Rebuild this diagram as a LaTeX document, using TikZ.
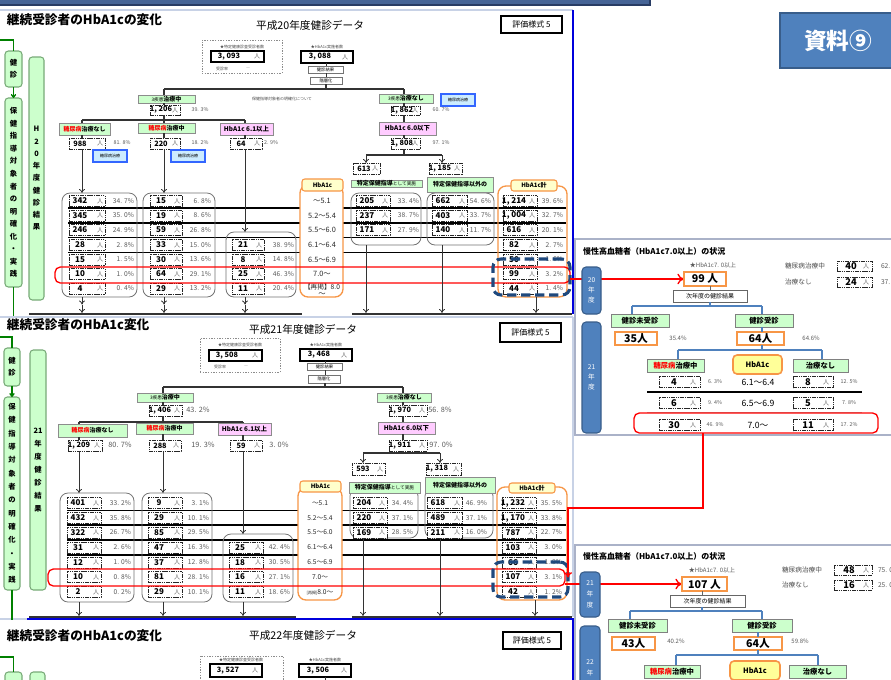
\documentclass[tikz,border=0pt]{standalone}
\usepackage{fontspec}
\setmainfont{Noto Sans CJK JP}
\usetikzlibrary{arrows.meta}
\definecolor{lgreen}{RGB}{204,255,204}
\definecolor{lpink}{RGB}{255,204,255}
\definecolor{lblue}{RGB}{204,236,255}
\definecolor{bluebd}{RGB}{51,102,255}
\definecolor{orng}{RGB}{247,150,70}
\definecolor{lyel}{RGB}{255,255,204}
\definecolor{yel}{RGB}{255,255,153}
\definecolor{pblue}{RGB}{79,129,189}
\definecolor{pbluebd}{RGB}{56,93,138}
\definecolor{dblue}{RGB}{31,73,125}
\definecolor{dgreen}{RGB}{0,128,0}
\definecolor{vgbd}{RGB}{120,170,120}
\definecolor{frl}{RGB}{200,210,230}
\definecolor{frb}{RGB}{0,0,220}
\definecolor{pbord}{RGB}{170,178,200}
\definecolor{barb}{RGB}{70,100,150}
\definecolor{barbd}{RGB}{40,60,100}
\newcommand\myfs[1]{\fontsize{#1}{#1}\selectfont}
\newcommand\mybx[7]{\node[#6,minimum width={(#4-#2)*0.75pt},minimum height={(#5-#3)*0.75pt}] (#1) at ({(#2+#4)/2},{(#3+#5)/2}) {#7};}
\newcommand\mytnum[6]{\mybx{#1}{#2}{#3}{#4}{#5}{numbox}{}%
 \node[tnumtxt] (#1-t) at ({#2+11},{(#3+#5)/2}) {#6};%
 \node[mantxt] (#1-m) at ({#4-5},{(#3+#5)/2}) {人};}
\newcommand\pctn[5]{\node[font=\myfs{#5},text=black!65] (#1) at (#2,#3) {#4};}
\newcommand\mytcol[7]{%
 \foreach \va/\vb [count=\i from #5] in {#7}{%
  \pgfmathsetmacro\yy{#6[\i-1]}%
  \node[numbox,minimum width={#3*0.75pt},minimum height={11*0.75pt}] (#1-\i) at (#2,\yy) {};
  \node[numtxt] (#1-\i-t) at ({#2-#3/2+11},\yy) {\va};
  \node[mantxt] (#1-\i-m) at ({#2+#3/2-5},\yy) {人};
  \node[pcttxt,anchor=east] (#1-\i-p) at (#4,\yy) {\vb};
 }}
\def\rowsA{{201,215.5,230,245,259.5,274,288.5}}
\def\rowsB{{503,518,532.5,547.5,562.5,577,592}}
\tikzset{
 gbox/.style={draw=black!45,fill=lgreen,line width=.5pt,font=\myfs{4.5}\bfseries},
 pbox/.style={draw=black!45,fill=lpink,line width=.5pt,font=\myfs{4.8}\bfseries},
 lbbox/.style={draw=bluebd,fill=lblue,line width=.8pt,font=\myfs{3}},
 numbox/.style={draw=black!85,line width=.6pt,dash pattern=on 1.2pt off .5pt,fill=white},
 topnum/.style={draw=black,line width=1pt,fill=white},
 topnumtxt/.style={font=\myfs{5.5}\bfseries},
 tnumtxt/.style={font=\myfs{5.5}\bfseries},
 numtxt/.style={font=\myfs{6}\bfseries},
 mantxt/.style={font=\myfs{4.5},text=black!60},
 pcttxt/.style={font=\myfs{5},text=black!65},
 hbtxt/.style={font=\myfs{5.5},text=black!85},
 tiny3/.style={font=\myfs{3},text=black!70},
 smallbox/.style={draw=black!55,fill=white,line width=.4pt,font=\myfs{3.2}},
 dashbox/.style={draw=black!45,dash pattern=on 1pt off 1pt,line width=.5pt},
 formbox/.style={draw=black,line width=1pt,font=\myfs{6},fill=white},
 colbox/.style={draw=black!55,line width=.6pt,rounded corners=6pt},
 orcol/.style={draw=orng,line width=1pt,rounded corners=6pt,fill=white},
 orlab/.style={draw=orng,line width=.8pt,rounded corners=2pt,fill=lyel,font=\myfs{4.5}\bfseries},
 tline/.style={draw=black!80,line width=1pt},
 rowline/.style={draw=black,line width=.9pt},
 arr/.style={draw=black!80,line width=.6pt,-{To[length=3pt,width=4.5pt]}},
 gline/.style={draw=dgreen,line width=1pt},
 vbox/.style={draw=vgbd,fill=lgreen,rounded corners=2.5pt,line width=.8pt,align=center},
 yrbox/.style={fill=pblue,draw=pbluebd,line width=.8pt,rounded corners=3pt,text=white,align=center,font=\fontsize{5}{7.5}\selectfont},
 onum/.style={draw=orng,line width=1.2pt,fill=white,font=\myfs{8}\bfseries},
 pgbox/.style={draw=black!50,fill=lgreen,line width=.6pt,font=\myfs{5.5}\bfseries},
 yelbox/.style={fill=yel,draw=orng,line width=1.2pt,rounded corners=3pt,font=\myfs{5.5}\bfseries},
 nextbox/.style={draw=black!60,fill=white,line width=.5pt,font=\myfs{4.5}},
 ptline/.style={draw=pblue,line width=1.3pt},
 redl/.style={draw=red,line width=1pt},
 redbox/.style={draw=red,line width=1pt,rounded corners=4pt},
 bdash/.style={draw=dblue,line width=2.3pt,dash pattern=on 7pt off 3.5pt,rounded corners=6pt},
 pframe/.style={draw=pbord,line width=.8pt,fill=white},
}
\begin{document}
\begin{tikzpicture}[x=0.75pt,y=-0.75pt,every node/.style={inner sep=0pt,outer sep=0pt}]
\useasboundingbox (0,0) rectangle (891,679);
\clip (0,0) rectangle (891,679);
\fill[white] (0,0) rectangle (891,679);
% ---------- frames ----------
\draw[fill=barb,draw=barbd,line width=.8pt] (-2,-2) rectangle (650,5);
\draw[frl,line width=1.2pt] (0,10) -- (573,10);
\draw[frb,line width=1pt] (573,10) -- (573,314);
\draw[frl,line width=1.2pt] (0,317) -- (573,317);
\draw[frl,line width=1pt] (573,317) -- (573,617);
\draw[frl,line width=1.2pt] (0,619) -- (27,619);
\draw[frb,line width=1.2pt] (27,619) -- (573,619) -- (573,685);
\mybx{shiryo}{780}{13}{896}{68}{fill=pblue,draw=pbluebd,line width=1.5pt,text=white,font=\myfs{17}\bfseries}{資料⑨}

% ================= SECTION 1 =================
\node[font=\myfs{9.5}\bfseries,anchor=west] (s1title) at (7,20) {継続受診者のHbA1cの変化};
\node[font=\myfs{8}] (s1sub) at (310,25) {平成20年度健診データ};
\mybx{s1form}{501}{16}{562}{33}{formbox}{評価様式 5}
\mybx{s1kn}{5}{51}{22}{87}{vbox,font=\fontsize{5.5}{9}\selectfont\bfseries}{健\\診}
\mybx{s1ho}{5}{98}{22}{287}{vbox,font=\fontsize{5.5}{9.4}\selectfont\bfseries}{保\\健\\指\\導\\対\\象\\者\\の\\明\\確\\化\\・\\実\\践}
\mybx{s1yr}{29}{57}{44}{300}{vbox,font=\fontsize{5.5}{9.2}\selectfont\bfseries}{H\\2\\0\\年\\度\\健\\診\\結\\果}
\coordinate (s1g0) at (0,40); \coordinate (s1g1) at (13.5,316);
\draw[gline] (s1g0) -| (s1kn.north);
\draw[gline,-{To[length=3pt,width=4pt]}] (s1kn.south) -- (s1ho.north);
\draw[gline] (s1ho.south) -- (s1g1);
\mybx{s1dash}{202}{40}{282}{73}{dashbox}{}
\node[tiny3] (s1l1) at (242,47) {★特定健康診査受診者数};
\mybx{s1tot}{211}{51}{264}{62}{topnum}{}
\node[topnumtxt] (s1tott) at (229,56.5) {3, 093};
\node[mantxt] (s1totm) at (257,56.5) {人};
\node[tiny3] (s1rate) at (222,69) {受診率};
\node[tiny3] (s1ratev) at (248,69) {―};
\node[tiny3] (s1l2) at (327,47) {★HbA1c実施者数};
\mybx{s1hb}{301}{51}{353}{63}{topnum}{}
\node[topnumtxt] (s1hbt) at (320,57) {3, 088};
\node[mantxt] (s1hbm) at (345,57) {人};
\mybx{s1kk}{308}{66}{343}{73}{smallbox}{健診結果}
\mybx{s1ks}{310}{77}{342}{84}{smallbox}{階層化}
\coordinate (s1v) at (326,89); \coordinate (s1jL) at (164,89); \coordinate (s1jR) at (404,89);
\draw[tline,line width=.6pt] (s1v |- s1hb.south) -- (s1v |- s1kk.north);
\draw[tline,line width=.6pt] (s1v |- s1kk.south) -- (s1v |- s1ks.north);
\draw[tline] (s1v |- s1ks.south) -- (s1v);
\draw[tline] (s1jL) -- (s1jR);
\node[tiny3,anchor=west] (s1note) at (252,99) {保健指導対象者の明確化について};
\mybx{s1a}{138}{95}{195}{103}{gbox}{{\mdseries\myfs{3.5}3疾患}治療中}
\mytnum{s1an}{150}{105}{180}{115}{1, 206}
\pctn{s1ap}{200}{110}{39. 3\%}{4}
\coordinate (s1kL) at (82,120); \coordinate (s1kM) at (164,120); \coordinate (s1kR) at (245,120);
\draw[tline] (s1jL) -- (s1jL |- s1a.north);
\draw[tline] (s1jL |- s1a.south) -- (s1jL |- s1an.north);
\draw[tline] (s1jL |- s1an.south) -- (s1kM);
\draw[tline] (s1kL) -- (s1kR);
\mybx{s1c1}{59}{123}{110}{135}{gbox}{{\color{red}糖尿病}治療なし}
\mybx{s1c2}{138}{123}{195}{133}{gbox}{{\color{red}糖尿病}治療中}
\mybx{s1c3}{220}{123}{273}{135}{pbox}{HbA1c 6.1以上}
\mytnum{s1n1}{69}{138}{105}{149}{988}
\mytnum{s1n2}{150}{138}{180}{149}{220}
\mytnum{s1n3}{230}{138}{262}{149}{64}
\pctn{s1p1}{122}{143}{81. 8\%}{4}
\pctn{s1p2}{200}{143}{18. 2\%}{4}
\pctn{s1p3}{271}{143}{2. 9\%}{4}
\mybx{s1lb1}{93}{150}{127}{162}{lbbox}{糖尿病治療}
\mybx{s1lb2}{171}{150}{205}{162}{lbbox}{糖尿病治療}
\foreach \k/\ci in {kL/1,kM/2,kR/3}{%
 \draw[tline] (s1\k) -- (s1\k |- s1c\ci.north);
 \draw[tline] (s1\k |- s1c\ci.south) -- (s1\k |- s1n\ci.north);}
\mybx{s1b}{379}{94}{433}{103}{gbox}{{\mdseries\myfs{3.5}3疾患}治療なし}
\mybx{s1lb3}{441}{94}{475}{106}{lbbox}{糖尿病治療}
\mytnum{s1bn}{391}{106}{420}{115}{1, 862}
\pctn{s1bp}{441}{110}{60. 7\%}{4}
\mybx{s1b2}{379}{122}{436}{135}{pbox}{HbA1c 6.0以下}
\mytnum{s1bn2}{391}{138}{420}{149}{1, 808}
\pctn{s1bp2}{441}{143}{97. 1\%}{4}
\coordinate (s1m) at (404,155); \coordinate (s1mL) at (366,155); \coordinate (s1mR) at (442,155);
\draw[tline] (s1jR) -- (s1jR |- s1b.north);
\draw[tline] (s1jR |- s1b.south) -- (s1jR |- s1bn.north);
\draw[tline] (s1jR |- s1bn.south) -- (s1jR |- s1b2.north);
\draw[tline] (s1jR |- s1b2.south) -- (s1jR |- s1bn2.north);
\draw[tline] (s1jR |- s1bn2.south) -- (s1m);
\draw[tline] (s1mL) -- (s1mR);
\mytnum{s1x1}{353}{163}{380}{174}{613}
\mytnum{s1x2}{429}{163}{462}{174}{1, 185}
\draw[arr] (s1mL) -- (s1mL |- s1x1.north);
\draw[arr] (s1mR) -- (s1mR |- s1x2.north);
\foreach \yy in {208,223,237.5,252.5} \draw[rowline] (68,\yy) -- (566,\yy);
\mybx{s1hc}{300}{185}{343}{297}{orcol}{}
\mybx{s1hl}{302}{179}{343}{191}{orlab}{HbA1c}
\mybx{s1sc}{498}{186}{567}{297}{orcol,fill=none}{}
\mybx{s1sl}{511}{180}{557}{191}{orlab}{HbA1c計}
\mybx{s1col1}{62}{193}{137}{297}{colbox}{}
\mybx{s1col2}{143}{193}{215}{297}{colbox}{}
\mybx{s1col3}{226}{232}{296}{297}{colbox}{}
\mybx{s1col4}{351}{193}{421}{245}{colbox}{}
\mybx{s1col5}{427}{193}{494}{245}{colbox}{}
\mybx{s1tk}{351}{180}{422}{187}{gbox}{特定保健指導{\mdseries\myfs{3.5}として実施}}
\mybx{s1ig}{427}{177}{493}{192}{gbox}{特定保健指導以外の}
\draw[arr] (s1kL |- s1n1.south) -- (s1kL |- s1col1.north);
\draw[arr] (s1kM |- s1n2.south) -- (s1kM |- s1col2.north);
\draw[arr] (s1kR |- s1n3.south) -- (s1kR |- s1col3.north);
\mytcol{s1t1}{87}{36}{134}{1}{\rowsA}{342/34. 7\%,345/35. 0\%,246/24. 9\%,28/2. 8\%,15/1. 5\%,10/1. 0\%,4/0. 4\%}
\mytcol{s1t2}{166}{32}{211}{1}{\rowsA}{15/6. 8\%,19/8. 6\%,59/26. 8\%,33/15. 0\%,30/13. 6\%,64/29. 1\%,29/13. 2\%}
\mytcol{s1t3}{248}{32}{294}{4}{\rowsA}{21/38. 9\%,8/14. 8\%,25/46. 3\%,11/20. 4\%}
\mytcol{s1t4}{373}{34}{419}{1}{\rowsA}{205/33. 4\%,237/38. 7\%,171/27. 9\%}
\mytcol{s1t5}{449.5}{35}{491}{1}{\rowsA}{662/54. 6\%,403/33. 7\%,140/11. 7\%}
\mytcol{s1t6}{520}{34}{563}{1}{\rowsA}{{1, 214}/39. 6\%,{1, 004}/32. 7\%,616/20. 1\%,82/2. 7\%,50/1. 6\%,99/3. 2\%,44/1. 4\%}
\foreach \vt [count=\i] in {～5.1,5.2～5.4,5.5～6.0,6.1～6.4,6.5～6.9,7.0～}{%
 \pgfmathsetmacro\yy{\rowsA[\i-1]}\node[hbtxt] (s1v\i) at (322,\yy) {\vt};}
\node[hbtxt,font=\myfs{5}] (s1v7) at (322,287) {【再掲】8.0};
\node[hbtxt] (s1v8) at (322,295) {～};
\mybx{s1red}{55}{267}{570}{283}{redbox}{}
\mybx{s1bd}{493}{259}{570}{295}{bdash}{}
\coordinate (s1bm) at (0,304.5); \coordinate (s1bb) at (0,313); \coordinate (s1sx) at (536,297);
\foreach \k/\ci in {kL/1,kM/2,kR/3}{%
 \draw[arr] (s1\k |- s1col\ci.south) -- (s1\k |- s1bm);
 \draw[arr] (s1\k |- s1bm) -- (s1\k |- s1bb);}
\draw[arr] (s1mL |- s1col4.south) -- (s1mL |- s1bb);
\draw[arr] (s1mR |- s1col5.south) -- (s1mR |- s1bb);
\draw[arr] (s1sx) -- (s1sx |- s1bb);
\draw[tline] (29,314) -- (302,314);
\draw[tline] (352,314) -- (572,314);

% ================= SECTION 2 =================
\node[font=\myfs{9.5}\bfseries,anchor=west] (s2title) at (7,325) {継続受診者のHbA1c変化};
\node[font=\myfs{8}] (s2sub) at (303,329) {平成21年度健診データ};
\mybx{s2form}{500}{323}{561}{342}{formbox}{評価様式 5}
\mybx{s2kn}{4}{348}{20}{386}{vbox,font=\fontsize{5.5}{9}\selectfont\bfseries}{健\\診}
\mybx{s2ho}{4}{397}{20}{590}{vbox,font=\fontsize{5.5}{10}\selectfont\bfseries}{保\\健\\指\\導\\対\\象\\者\\の\\明\\確\\化\\・\\実\\践}
\mybx{s2yr}{30}{350}{46}{590}{vbox,font=\fontsize{5.5}{9.75}\selectfont\bfseries}{21\\年\\度\\健\\診\\結\\果}
\coordinate (s2g0) at (0,337); \coordinate (s2g1) at (12,620);
\draw[gline] (s2g0) -| (s2kn.north);
\draw[gline,-{To[length=3pt,width=4pt]}] (s2kn.south) -- (s2ho.north);
\draw[gline] (s2ho.south) -- (s2ho.south |- s2g1);
\mybx{s2dash}{200}{338}{280}{372}{dashbox}{}
\node[tiny3] (s2l1) at (240,345) {★特定健康診査受診者数};
\mybx{s2tot}{209}{350}{262}{361}{topnum}{}
\node[topnumtxt] (s2tott) at (227,355.5) {3, 508};
\node[mantxt] (s2totm) at (255,355.5) {人};
\node[tiny3] (s2rate) at (220,367) {受診率};
\node[tiny3] (s2ratev) at (246,367) {―};
\node[tiny3] (s2l2) at (326,345) {★HbA1c実施者数};
\mybx{s2hb}{300}{349}{352}{361}{topnum}{}
\node[topnumtxt] (s2hbt) at (319,355) {3, 468};
\node[mantxt] (s2hbm) at (344,355) {人};
\mybx{s2kk}{307}{363}{342}{370}{smallbox}{健診結果}
\mybx{s2ks}{308}{375}{340}{383}{smallbox}{階層化}
\coordinate (s2v) at (325,387); \coordinate (s2jL) at (163,387); \coordinate (s2jR) at (403,387);
\draw[tline,line width=.6pt] (s2v |- s2hb.south) -- (s2v |- s2kk.north);
\draw[tline,line width=.6pt] (s2v |- s2kk.south) -- (s2v |- s2ks.north);
\draw[tline] (s2v |- s2ks.south) -- (s2v);
\draw[tline,line width=1.2pt] (s2jL) -- (s2jR);
\mybx{s2a}{137}{393}{193}{402}{gbox}{{\mdseries\myfs{3.5}3疾患}治療中}
\mytnum{s2an}{149}{405}{182}{416}{1, 406}
\pctn{s2ap}{198}{410}{43. 2\%}{5.5}
\coordinate (s2kL) at (79,422); \coordinate (s2kM) at (163,422); \coordinate (s2kR) at (243,422);
\draw[tline] (s2jL) -- (s2jL |- s2a.north);
\draw[tline] (s2jL |- s2a.south) -- (s2jL |- s2an.north);
\draw[tline] (s2jL |- s2an.south) -- (s2kM);
\draw[tline] (s2kL) -- (s2kR);
\mybx{s2c1}{58}{424}{127}{437}{gbox}{{\color{red}糖尿病}治療なし}
\mybx{s2c2}{136}{423}{193}{434}{gbox}{{\color{red}糖尿病}治療中}
\mybx{s2c3}{218}{423}{271}{435}{pbox}{HbA1c 6.1以上}
\mytnum{s2n1}{68}{440}{102}{451}{1, 209}
\mytnum{s2n2}{149}{440}{181}{451}{288}
\mytnum{s2n3}{230}{440}{262}{451}{59}
\pctn{s2p1}{120}{445}{80. 7\%}{5.5}
\pctn{s2p2}{203}{445}{19. 3\%}{5.5}
\pctn{s2p3}{279}{445}{3. 0\%}{5.5}
\foreach \k/\ci in {kL/1,kM/2,kR/3}{%
 \draw[tline] (s2\k) -- (s2\k |- s2c\ci.north);
 \draw[tline] (s2\k |- s2c\ci.south) -- (s2\k |- s2n\ci.north);}
\mybx{s2b}{377}{393}{431}{402}{gbox}{{\mdseries\myfs{3.5}3疾患}治療なし}
\mytnum{s2bn}{389}{405}{427}{416}{1, 970}
\pctn{s2bp}{440}{410}{56. 8\%}{5.5}
\mybx{s2b2}{378}{422}{435}{434}{pbox}{HbA1c 6.0以下}
\mytnum{s2bn2}{389}{440}{427}{451}{1, 911}
\pctn{s2bp2}{441}{445}{97. 0\%}{5.5}
\coordinate (s2m) at (403,453); \coordinate (s2mL) at (363,453); \coordinate (s2mR) at (440,453);
\draw[tline] (s2jR) -- (s2jR |- s2b.north);
\draw[tline] (s2jR |- s2b.south) -- (s2jR |- s2bn.north);
\draw[tline] (s2jR |- s2bn.south) -- (s2jR |- s2b2.north);
\draw[tline] (s2jR |- s2b2.south) -- (s2jR |- s2bn2.north);
\draw[tline] (s2jR |- s2bn2.south) -- (s2m);
\draw[tline,line width=1.2pt] (s2mL) -- (s2mR);
\mytnum{s2x1}{352}{463}{385}{475}{593}
\mytnum{s2x2}{426}{463}{461}{475}{1, 318}
\draw[arr] (s2mL) -- (s2mL |- s2x1.north);
\draw[arr] (s2mR) -- (s2mR |- s2x2.north);
\foreach \yy in {510.5,525,540,555} \draw[rowline] (67,\yy) -- (566,\yy);
\mybx{s2hc}{298}{488}{342}{600}{orcol}{}
\mybx{s2hl}{300}{481}{341}{492}{orlab}{HbA1c}
\mybx{s2sc}{497}{487}{567}{600}{orcol,fill=none}{}
\mybx{s2sl}{509}{483}{555}{493}{orlab}{HbA1c計}
\mybx{s2col1}{60}{493}{134}{602}{colbox}{}
\mybx{s2col2}{142}{493}{212}{602}{colbox}{}
\mybx{s2col3}{223}{534}{293}{602}{colbox}{}
\mybx{s2col4}{350}{488}{418}{538}{colbox}{}
\mybx{s2col5}{425}{488}{493}{538}{colbox}{}
\mybx{s2tk}{349}{482}{420}{493}{gbox}{特定保健指導{\mdseries\myfs{3.5}として実施}}
\mybx{s2ig}{425}{477}{495}{493}{gbox}{特定保健指導以外の}
\draw[arr] (s2kL |- s2n1.south) -- (s2kL |- s2col1.north);
\draw[arr] (s2kM |- s2n2.south) -- (s2kM |- s2col2.north);
\draw[arr] (s2kR |- s2n3.south) -- (s2kR |- s2col3.north);
\mytcol{s2t1}{84}{34}{131}{1}{\rowsB}{401/33. 2\%,432/35. 8\%,322/26. 7\%,31/2. 6\%,12/1. 0\%,10/0. 8\%,2/0. 2\%}
\mytcol{s2t2}{165}{34}{209}{1}{\rowsB}{9/3. 1\%,29/10. 1\%,85/29. 5\%,47/16. 3\%,37/12. 8\%,81/28. 1\%,29/10. 1\%}
\mytcol{s2t3}{246}{34}{290}{4}{\rowsB}{25/42. 4\%,18/30. 5\%,16/27. 1\%,11/18. 6\%}
\mytcol{s2t4}{370}{34}{413}{1}{\rowsB}{204/34. 4\%,220/37. 1\%,169/28. 5\%}
\mytcol{s2t5}{444.5}{35}{487}{1}{\rowsB}{618/46. 9\%,489/37. 1\%,211/16. 0\%}
\mytcol{s2t6}{519}{34}{562}{1}{\rowsB}{{1, 232}/35. 5\%,{1, 170}/33. 8\%,787/22. 7\%,103/3. 0\%,66/1. 9\%,107/3. 1\%,42/1. 2\%}
\foreach \vt [count=\i] in {～5.1,5.2～5.4,5.5～6.0,6.1～6.4,6.5～6.9,7.0～}{%
 \pgfmathsetmacro\yy{\rowsB[\i-1]}\node[hbtxt,font=\myfs{5}] (s2v\i) at (320,\yy) {\vt};}
\node[hbtxt,font=\myfs{5}] (s2v7) at (320,592) {{\myfs{3}[再掲]}8.0～};
\mybx{s2red}{48}{569}{565}{586}{redbox}{}
\mybx{s2bd}{493}{562}{568}{597}{bdash}{}
\coordinate (s2bb) at (0,616); \coordinate (s2sx) at (535,600);
\foreach \k/\ci in {kL/1,kM/2,kR/3}{%
 \draw[arr] (s2\k |- s2col\ci.south) -- (s2\k |- s2bb);}
\draw[arr] (s2mL |- s2col4.south) -- (s2mL |- s2bb);
\draw[arr] (s2mR |- s2col5.south) -- (s2mR |- s2bb);
\draw[arr] (s2sx) -- (s2sx |- s2bb);
\draw[tline,line width=.8pt] (29,617) -- (296,617);
\draw[tline,line width=.8pt] (352,617) -- (572,617);

% ================= SECTION 3 =================
\node[font=\myfs{9.5}\bfseries,anchor=west] (s3title) at (7,636) {継続受診者のHbA1cの変化};
\node[font=\myfs{8}] (s3sub) at (303,635) {平成22年度健診データ};
\mybx{s3form}{503}{632}{561}{649}{formbox}{評価様式 5}
\mybx{s3kn}{5}{672}{22}{710}{vbox}{}
\mybx{s3yr}{30}{672}{45}{720}{vbox}{}
\coordinate (s3g0) at (0,657);
\draw[gline] (s3g0) -| (s3kn.north);
\mybx{s3dash}{200}{656}{283}{690}{dashbox}{}
\node[tiny3] (s3l1) at (241,660) {★特定健康診査受診者数};
\mybx{s3tot}{210}{664}{262}{677}{topnum}{}
\node[topnumtxt] (s3tott) at (228,670.5) {3, 527};
\node[mantxt] (s3totm) at (255,670.5) {人};
\node[tiny3] (s3l2) at (325,660) {★HbA1c実施者数};
\mybx{s3hb}{299}{664}{351}{677}{topnum}{}
\node[topnumtxt] (s3hbt) at (318,670.5) {3, 506};
\node[mantxt] (s3hbm) at (344,670.5) {人};
\coordinate (s3hx) at (325,690);
\draw[tline,line width=.6pt] (s3hx |- s3hb.south) -- (s3hx);

% ================= PANEL FRAMES + RED CONNECTORS =================
\draw[pframe] (575,239) rectangle (895,435);
\draw[pframe] (575,545) rectangle (895,690);
\coordinate (p1nw) at (684,279); \coordinate (p2nw) at (682,584);
\draw[redl,-{To[length=5pt,width=8pt]}] (s1red.east |- p1nw) -- (p1nw);
\draw[redl,-{To[length=5pt,width=8pt]}] (s2red.east |- p2nw) -- (p2nw);
\coordinate (rr0) at (703,433); \coordinate (rr1) at (703,508); \coordinate (rr2) at (568,508);
\draw[redl,-{To[length=4pt,width=6pt]}] (rr0) -- (rr1) -- (rr2) -- (rr2 |- s2red.center);

% ================= PANEL 1 =================
\node[font=\myfs{6}\bfseries,anchor=west] (p1tit) at (583,251) {慢性高血糖者（HbA1c7.0以上）の状況};
\mybx{p1y1}{582}{267}{601}{314}{yrbox}{20\\年\\度}
\mybx{p1y2}{582}{322}{601}{433}{yrbox}{21\\年\\度}
\node[font=\myfs{4.5},text=black!65] (p1star) at (713,265) {★HbA1c7. 0以上};
\mybx{p1n}{684}{272}{726}{286}{onum}{99 人}
\mybx{p1next}{673}{290}{747}{302}{nextbox}{次年度の健診結果}
\coordinate (p1j) at (710,306); \coordinate (p1jL) at (632,306); \coordinate (p1jR) at (762,306);
\draw[black!60,line width=.5pt] (p1n.south -| p1j) -- (p1j |- p1next.north);
\draw[ptline] (p1j |- p1next.south) -- (p1j);
\draw[ptline] (p1jL) -- (p1jR);
\mybx{p1u}{611}{314}{669}{327}{pgbox}{健診未受診}
\mybx{p1r}{735}{314}{793}{327}{pgbox}{健診受診}
\draw[ptline] (p1jL) -- (p1jL |- p1u.north);
\draw[ptline] (p1jR) -- (p1jR |- p1r.north);
\mybx{p1u2}{615}{332}{657}{345}{onum}{35人}
\pctn{p1up}{678}{338}{35.4\%}{4.5}
\mybx{p1r2}{737}{332}{784}{345}{onum}{64人}
\pctn{p1rp}{811}{338}{64.6\%}{4.5}
\coordinate (p1k) at (762,350); \coordinate (p1kL) at (678,350); \coordinate (p1kR) at (822,350);
\draw[ptline] (p1k |- p1r.south) -- (p1k |- p1r2.north);
\draw[ptline] (p1k |- p1r2.south) -- (p1k);
\draw[ptline] (p1kL) -- (p1kR);
\mybx{p1d}{647}{359}{704}{372}{pgbox}{{\color{red}糖尿病}治療中}
\mybx{p1h}{733}{355}{782}{374}{yelbox}{HbA1c}
\mybx{p1nt}{793}{359}{848}{372}{pgbox}{治療なし}
\draw[ptline] (p1kL) -- (p1kL |- p1d.north);
\draw[ptline] (p1kR) -- (p1kR |- p1nt.north);
\draw[black,line width=1.3pt] (647,392) -- (862,392);
\draw[black!30,line width=.5pt] (647,412) -- (862,412);
\mybx{p1red}{634}{413}{878}{433}{redbox}{}
\foreach \qa/\qb/\qm/\qc/\qd/\qy [count=\i] in {4/6. 3\%/6.1～6.4/8/12. 5\%/382,6/9. 4\%/6.5～6.9/5/7. 8\%/403,30/46. 9\%/7.0～/11/17. 2\%/425}{%
 \node[numbox,minimum width={41*0.75pt},minimum height={11*0.75pt}] (p1a\i) at (679.5,\qy) {};
 \node[font=\myfs{7}\bfseries] (p1a\i t) at (674,\qy) {\qa};
 \node[mantxt] (p1a\i m) at (693,\qy) {人};
 \node[font=\myfs{4},text=black!65] (p1a\i p) at (715,\qy) {\qb};
 \node[font=\myfs{6.5}] (p1m\i) at (758,\qy) {\qm};
 \node[numbox,minimum width={40*0.75pt},minimum height={11*0.75pt}] (p1b\i) at (813,\qy) {};
 \node[font=\myfs{7}\bfseries] (p1b\i t) at (808,\qy) {\qc};
 \node[mantxt] (p1b\i m) at (826,\qy) {人};
 \node[font=\myfs{4},text=black!65] (p1b\i p) at (849,\qy) {\qd};}
\node[font=\myfs{5},text=black!70,anchor=west] (p1t1l) at (785,266) {糖尿病治療中};
\mybx{p1t1}{837}{261}{872}{271}{numbox}{}
\node[font=\myfs{7}\bfseries] (p1t1t) at (851,266) {40};
\node[mantxt] (p1t1m) at (866,266) {人};
\node[pcttxt,anchor=west] (p1t1p) at (881,266) {62.};
\node[font=\myfs{5},text=black!70,anchor=west] (p1t2l) at (785,282) {治療なし};
\mybx{p1t2}{837}{277}{872}{287}{numbox}{}
\node[font=\myfs{7}\bfseries] (p1t2t) at (851,282) {24};
\node[mantxt] (p1t2m) at (866,282) {人};
\node[pcttxt,anchor=west] (p1t2p) at (881,282) {37.};

% ================= PANEL 2 =================
\node[font=\myfs{6}\bfseries,anchor=west] (p2tit) at (583,556) {慢性高血糖者（HbA1c7.0以上）の状況};
\mybx{p2y1}{580}{572}{600}{617}{yrbox,font=\fontsize{5}{8}\selectfont}{21\\年\\度}
\mybx{p2y2}{580}{626}{600}{732}{yrbox}{}
\node[text=white,align=center,font=\fontsize{5}{8}\selectfont] (p2y2t) at (590,667.5) {22\\年};
\node[font=\myfs{4.5},text=black!65] (p2star) at (712,570) {★HbA1c7. 0以上};
\mybx{p2n}{682}{577}{727}{591}{onum}{107 人}
\mybx{p2next}{670}{595}{745}{607}{nextbox}{次年度の健診結果}
\coordinate (p2j) at (702,611); \coordinate (p2jL) at (630,611); \coordinate (p2jR) at (762,611);
\draw[black!60,line width=.5pt] (p2n.south -| p2j) -- (p2j |- p2next.north);
\draw[ptline] (p2j |- p2next.south) -- (p2j);
\draw[ptline] (p2jL) -- (p2jR);
\mybx{p2u}{608}{619}{667}{632}{pgbox}{健診未受診}
\mybx{p2r}{732}{619}{792}{632}{pgbox}{健診受診}
\draw[ptline] (p2jL) -- (p2jL |- p2u.north);
\draw[ptline] (p2jR) -- (p2jR |- p2r.north);
\mybx{p2u2}{612}{637}{655}{650}{onum}{43人}
\pctn{p2up}{676}{641}{40.2\%}{4.5}
\mybx{p2r2}{734}{637}{782}{650}{onum}{64人}
\pctn{p2rp}{800}{641}{59.8\%}{4.5}
\coordinate (p2k) at (758,655); \coordinate (p2kL) at (676,655); \coordinate (p2kR) at (818,655);
\draw[ptline] (p2k |- p2r.south) -- (p2k |- p2r2.north);
\draw[ptline] (p2k |- p2r2.south) -- (p2k);
\draw[ptline] (p2kL) -- (p2kR);
\mybx{p2d}{644}{665}{700}{678}{pgbox}{{\color{red}糖尿病}治療中}
\mybx{p2h}{730}{661}{780}{680}{yelbox}{HbA1c}
\mybx{p2nt}{789}{665}{846}{678}{pgbox}{治療なし}
\draw[ptline] (p2kL) -- (p2kL |- p2d.north);
\draw[ptline] (p2kR) -- (p2kR |- p2nt.north);
\node[font=\myfs{5},text=black!70,anchor=west] (p2t1l) at (782,570) {糖尿病治療中};
\mybx{p2t1}{834}{565}{872}{575}{numbox}{}
\node[font=\myfs{7}\bfseries] (p2t1t) at (849,570) {48};
\node[mantxt] (p2t1m) at (866,570) {人};
\node[pcttxt,anchor=west] (p2t1p) at (878,570) {75. 0};
\node[font=\myfs{5},text=black!70,anchor=west] (p2t2l) at (782,585) {治療なし};
\mybx{p2t2}{834}{580}{872}{590}{numbox}{}
\node[font=\myfs{7}\bfseries] (p2t2t) at (849,585) {16};
\node[mantxt] (p2t2m) at (866,585) {人};
\node[pcttxt,anchor=west] (p2t2p) at (878,585) {25. 0};
\end{tikzpicture}
\end{document}
